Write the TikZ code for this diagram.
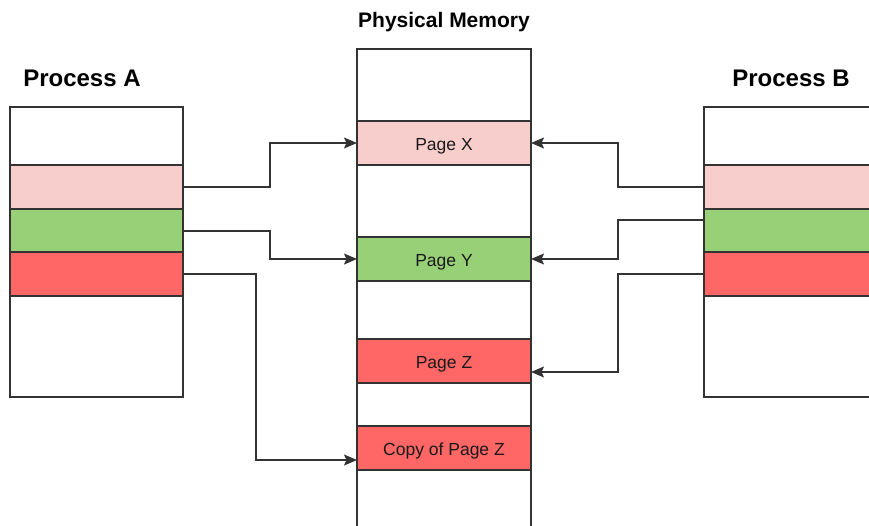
\documentclass[tikz,border=0pt]{standalone}
\usepackage{fontspec}
\setmainfont{Liberation Sans}
\usetikzlibrary{arrows.meta}
\definecolor{pinkf}{HTML}{F8CECC}
\definecolor{greenf}{HTML}{97D077}
\definecolor{redf}{HTML}{FF6666}
\definecolor{edgec}{HTML}{333333}
\definecolor{textc}{HTML}{1A1A1A}
\begin{document}
\begin{tikzpicture}[x=1pt,y=-1pt,
  box/.style={draw=edgec, line width=1.6pt, fill=white, rectangle, inner sep=0pt, outer sep=0pt},
  band/.style={box, minimum width=173pt, minimum height=44pt, text=textc,
    font=\fontsize{17.5}{20}\selectfont, text height=14pt, text depth=0pt},
  conn/.style={draw=black!80, line width=1.5pt, -{Stealth[length=13pt,width=11pt,inset=2.5pt]}},
  title/.style={anchor=base, font=\fontsize{24}{28}\selectfont\bfseries}]
\clip (0,0) rectangle (869,525);
\fill[white] (0,0) rectangle (869,525);
% Process A
\node[box, minimum width=173pt, minimum height=290pt] (procA) at (96.5,252) {};
\node[band, fill=pinkf] (aPink) at (96.5,187) {};
\node[band, fill=greenf, minimum height=43pt] (aGreen) at (96.5,230.5) {};
\node[band, fill=redf] (aRed) at (96.5,274) {};
% Process B
\node[box, minimum width=173pt, minimum height=290pt] (procB) at (790.5,252) {};
\node[band, fill=pinkf] (bPink) at (790.5,187) {};
\node[band, fill=greenf, minimum height=43pt] (bGreen) at (790.5,230.5) {};
\node[band, fill=redf] (bRed) at (790.5,274) {};
% Physical memory
\node[box, minimum width=174pt, minimum height=500pt, anchor=north west] (mem) at (357,49) {};
\node[band, fill=pinkf, minimum width=174pt] (pageX) at (444,143) {Page X};
\node[band, fill=greenf, minimum width=174pt] (pageY) at (444,259) {Page Y};
\node[band, fill=redf, minimum width=174pt] (pageZ) at (444,361) {Page Z};
\node[band, fill=redf, minimum width=174pt] (copyZ) at (444,448) {Copy of Page Z};
% Titles
\node[title] (tA) at (82,86.7) {Process A};
\node[title] (tB) at (791,86.7) {Process B};
\node[title, font=\fontsize{21}{24}\selectfont\bfseries] (tM) at (444,27.5) {Physical Memory};
% Connectors
\draw[conn] (aPink.east) -- ++(87,0) |- (pageX.west);
\draw[conn] ([yshift=-0.5pt]aGreen.east) -- ++(87,0) |- (pageY.west);
\draw[conn] (aRed.east) -- ++(73,0) |- ([yshift=-12pt]copyZ.west);
\draw[conn] (bPink.west) -- ++(-86,0) |- (pageX.east);
\draw[conn] ([yshift=10.5pt]bGreen.west) -- ++(-86,0) |- (pageY.east);
\draw[conn] (bRed.west) -- ++(-86,0) |- ([yshift=-11pt]pageZ.east);
\end{tikzpicture}
\end{document}
